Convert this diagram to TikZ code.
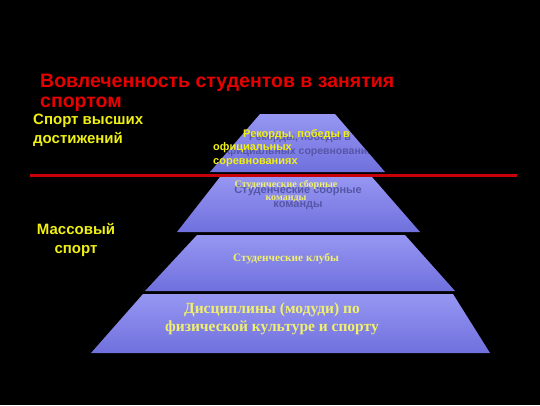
\documentclass[tikz,border=0pt]{standalone}
\usepackage{fontspec}
\setmainfont{Liberation Serif}
\setsansfont{Liberation Sans}
\definecolor{titlered}{RGB}{230, 0, 0}
\definecolor{linered}{RGB}{200, 0, 10}
\definecolor{labelyellow}{RGB}{240, 240, 20}
\definecolor{paleyellow}{RGB}{240, 240, 110}
\definecolor{tiertop}{RGB}{150, 150, 242}
\definecolor{tierbot}{RGB}{112, 112, 222}
\definecolor{ghostblue}{RGB}{86, 86, 168}
\usetikzlibrary{positioning}

\begin{document}
\begin{tikzpicture}[x=1pt, y=-1pt,
  tier/.style={top color=tiertop, bottom color=tierbot, draw=none},
  side/.style={font=\sffamily\bfseries\fontsize{15}{19}\selectfont, text=labelyellow, inner sep=0pt},
  ghost/.style={font=\sffamily\bfseries\fontsize{10.5}{13.5}\selectfont, text=ghostblue, align=center, inner sep=0pt},
  serifyel/.style={font=\bfseries, text=paleyellow, align=center, inner sep=0pt}]
  % Background
  \fill[black] (0,0) rectangle (540,405);

  % Title
  \node[font=\sffamily\bfseries\fontsize{19.5}{20}\selectfont, text=titlered, align=left, anchor=base west, inner sep=0pt] (title) at (40,107) {Вовлеченность студентов в занятия\\спортом};

  % Side labels
  \node[side, align=left, anchor=base west] (elite) at (33,143) {Спорт высших\\достижений};
  \node[side, align=center, anchor=base] (mass) at (76,253) {Массовый\\спорт};

  % Pyramid tiers
  \path[tier] (260,114) -- (335,114) -- (385,172) -- (210,172) -- cycle;
  \path[tier] (220,177) -- (372,177) -- (420,232) -- (177,232) -- cycle;
  \path[tier] (197,235) -- (405,235) -- (455,291) -- (145,291) -- cycle;
  \path[tier] (143,294) -- (453,294) -- (490,353) -- (91,353) -- cycle;

  % Ghost texts
  \begin{scope}
    \clip (260,114) -- (335,114) -- (385,172) -- (210,172) -- cycle;
    \node[ghost, anchor=base] (recGhost) at (300,154) {Рекорды, победы в\\официальных соревнованиях};
  \end{scope}
  \node[ghost, font=\sffamily\bfseries\fontsize{11}{14}\selectfont, anchor=base] (teamGhost) at (298,207) {Студенческие сборные\\команды};

  % Tier labels
  \node[font=\sffamily\bfseries\fontsize{11}{13.5}\selectfont, text=labelyellow, align=left, anchor=base west, inner sep=0pt] (recLabel) at (213,164) {\hspace*{30pt}Рекорды, победы в\\официальных\\соревнованиях};
  \node[serifyel, font=\bfseries\fontsize{10}{13}\selectfont, anchor=base] (teamLabel) at (286,200) {Студенческие сборные\\команды};
  \node[serifyel, font=\bfseries\fontsize{11.3}{12}\selectfont, anchor=base] (clubLabel) at (286,261) {Студенческие клубы};
  \node[serifyel, font=\bfseries\fontsize{15.5}{18}\selectfont, anchor=base] (discLabel) at (272,331) {Дисциплины (модуди) по\\физической культуре и спорту};

  % Divider
  \draw[linered, line width=3pt] (30,175) -- (517,175);
\end{tikzpicture}
\end{document}
